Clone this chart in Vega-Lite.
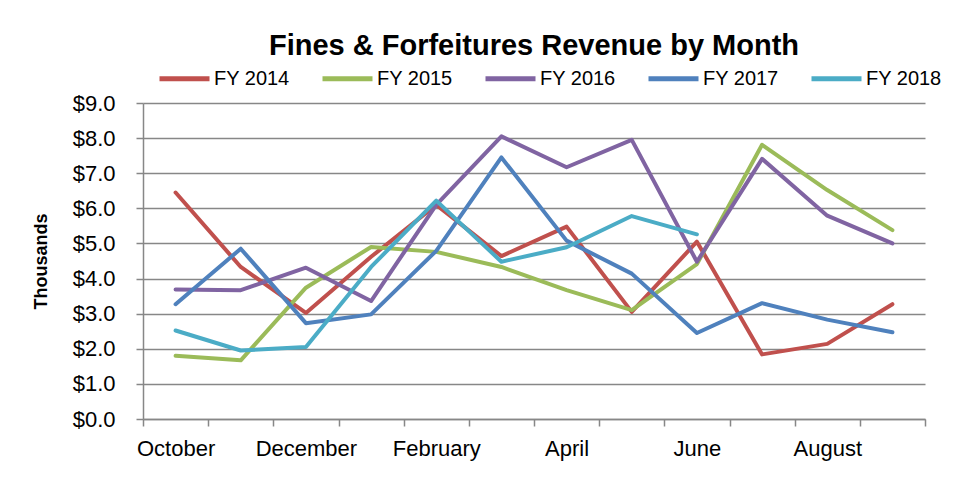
{
  "$schema": "https://vega.github.io/schema/vega-lite/v6.json",
  "width": 782,
  "height": 316,
  "autosize": {"type": "none"},
  "padding": {"left": 143, "top": 103, "right": 38, "bottom": 66},
  "background": "white",
  "config": {
    "view": {"stroke": null},
    "font": "Liberation Sans, Arial, sans-serif"
  },
  "title": {
    "text": "Fines & Forfeitures Revenue by Month",
    "anchor": "middle",
    "fontSize": 29,
    "fontWeight": "bold",
    "color": "black",
    "font": "Liberation Sans, Arial, sans-serif",
    "offset": -10
  },
  "data": {
    "values": [
      {"month": "October", "series": "FY 2014", "value": 6.45},
      {"month": "November", "series": "FY 2014", "value": 4.33},
      {"month": "December", "series": "FY 2014", "value": 3.02},
      {"month": "January", "series": "FY 2014", "value": 4.62},
      {"month": "February", "series": "FY 2014", "value": 6.1},
      {"month": "March", "series": "FY 2014", "value": 4.64},
      {"month": "April", "series": "FY 2014", "value": 5.48},
      {"month": "May", "series": "FY 2014", "value": 3.05},
      {"month": "June", "series": "FY 2014", "value": 5.05},
      {"month": "July", "series": "FY 2014", "value": 1.84},
      {"month": "August", "series": "FY 2014", "value": 2.14},
      {"month": "September", "series": "FY 2014", "value": 3.27},
      {"month": "October", "series": "FY 2015", "value": 1.8},
      {"month": "November", "series": "FY 2015", "value": 1.67},
      {"month": "December", "series": "FY 2015", "value": 3.74},
      {"month": "January", "series": "FY 2015", "value": 4.9},
      {"month": "February", "series": "FY 2015", "value": 4.76},
      {"month": "March", "series": "FY 2015", "value": 4.33},
      {"month": "April", "series": "FY 2015", "value": 3.67},
      {"month": "May", "series": "FY 2015", "value": 3.1},
      {"month": "June", "series": "FY 2015", "value": 4.41},
      {"month": "July", "series": "FY 2015", "value": 7.81},
      {"month": "August", "series": "FY 2015", "value": 6.52},
      {"month": "September", "series": "FY 2015", "value": 5.38},
      {"month": "October", "series": "FY 2016", "value": 3.69},
      {"month": "November", "series": "FY 2016", "value": 3.67},
      {"month": "December", "series": "FY 2016", "value": 4.31},
      {"month": "January", "series": "FY 2016", "value": 3.36},
      {"month": "February", "series": "FY 2016", "value": 6.1},
      {"month": "March", "series": "FY 2016", "value": 8.05},
      {"month": "April", "series": "FY 2016", "value": 7.17},
      {"month": "May", "series": "FY 2016", "value": 7.95},
      {"month": "June", "series": "FY 2016", "value": 4.48},
      {"month": "July", "series": "FY 2016", "value": 7.41},
      {"month": "August", "series": "FY 2016", "value": 5.79},
      {"month": "September", "series": "FY 2016", "value": 5.0},
      {"month": "October", "series": "FY 2017", "value": 3.27},
      {"month": "November", "series": "FY 2017", "value": 4.85},
      {"month": "December", "series": "FY 2017", "value": 2.73},
      {"month": "January", "series": "FY 2017", "value": 2.98},
      {"month": "February", "series": "FY 2017", "value": 4.79},
      {"month": "March", "series": "FY 2017", "value": 7.45},
      {"month": "April", "series": "FY 2017", "value": 5.08},
      {"month": "May", "series": "FY 2017", "value": 4.14},
      {"month": "June", "series": "FY 2017", "value": 2.45},
      {"month": "July", "series": "FY 2017", "value": 3.3},
      {"month": "August", "series": "FY 2017", "value": 2.83},
      {"month": "September", "series": "FY 2017", "value": 2.47},
      {"month": "October", "series": "FY 2018", "value": 2.52},
      {"month": "November", "series": "FY 2018", "value": 1.95},
      {"month": "December", "series": "FY 2018", "value": 2.05},
      {"month": "January", "series": "FY 2018", "value": 4.33},
      {"month": "February", "series": "FY 2018", "value": 6.22},
      {"month": "March", "series": "FY 2018", "value": 4.48},
      {"month": "April", "series": "FY 2018", "value": 4.89},
      {"month": "May", "series": "FY 2018", "value": 5.78},
      {"month": "June", "series": "FY 2018", "value": 5.26}
    ]
  },
  "mark": {"type": "line", "strokeWidth": 4, "strokeCap": "round", "strokeJoin": "round"},
  "encoding": {
    "x": {
      "field": "month",
      "type": "nominal",
      "bandPosition": 0.5,
      "sort": ["October", "November", "December", "January", "February", "March", "April", "May", "June", "July", "August", "September"],
      "scale": {"type": "band", "paddingInner": 0, "paddingOuter": 0},
      "axis": {
        "title": null,
        "labelAngle": 0,
        "labelOverlap": false,
        "labelExpr": "indexof(['October','December','February','April','June','August'], datum.value) >= 0 ? datum.value : ''",
        "tickBand": "extent",
        "tickSize": 7,
        "tickColor": "#878787",
        "tickWidth": 1.5,
        "domainColor": "#878787",
        "domainWidth": 1.5,
        "labelFontSize": 22,
        "labelColor": "black",
        "labelPadding": 12,
        "grid": false
      }
    },
    "y": {
      "field": "value",
      "type": "quantitative",
      "scale": {"domain": [0, 9], "nice": false, "zero": true},
      "axis": {
        "title": "Thousands",
        "titleFontSize": 18,
        "titleFontWeight": "bold",
        "titleColor": "black",
        "titlePadding": 22,
        "format": "$.1f",
        "values": [0, 1, 2, 3, 4, 5, 6, 7, 8, 9],
        "labelOverlap": false,
        "tickSize": 7,
        "tickColor": "#878787",
        "tickWidth": 1.5,
        "domainColor": "#878787",
        "domainWidth": 1.5,
        "gridColor": "#878787",
        "gridWidth": 1.5,
        "labelFontSize": 22,
        "labelColor": "black",
        "labelPadding": 21
      }
    },
    "color": {
      "field": "series",
      "type": "nominal",
      "scale": {
        "domain": ["FY 2014", "FY 2015", "FY 2016", "FY 2017", "FY 2018"],
        "range": ["#C0504D", "#9BBB59", "#8064A2", "#4F81BD", "#4BACC6"]
      },
      "legend": {
        "title": null,
        "orient": "none",
        "direction": "horizontal",
        "legendX": 14,
        "legendY": -52,
        "symbolType": "stroke",
        "symbolSize": 2500,
        "symbolStrokeWidth": 5,
        "labelFontSize": 20,
        "labelColor": "black",
        "labelOffset": 2,
        "columnPadding": 22
      }
    }
  }
}
